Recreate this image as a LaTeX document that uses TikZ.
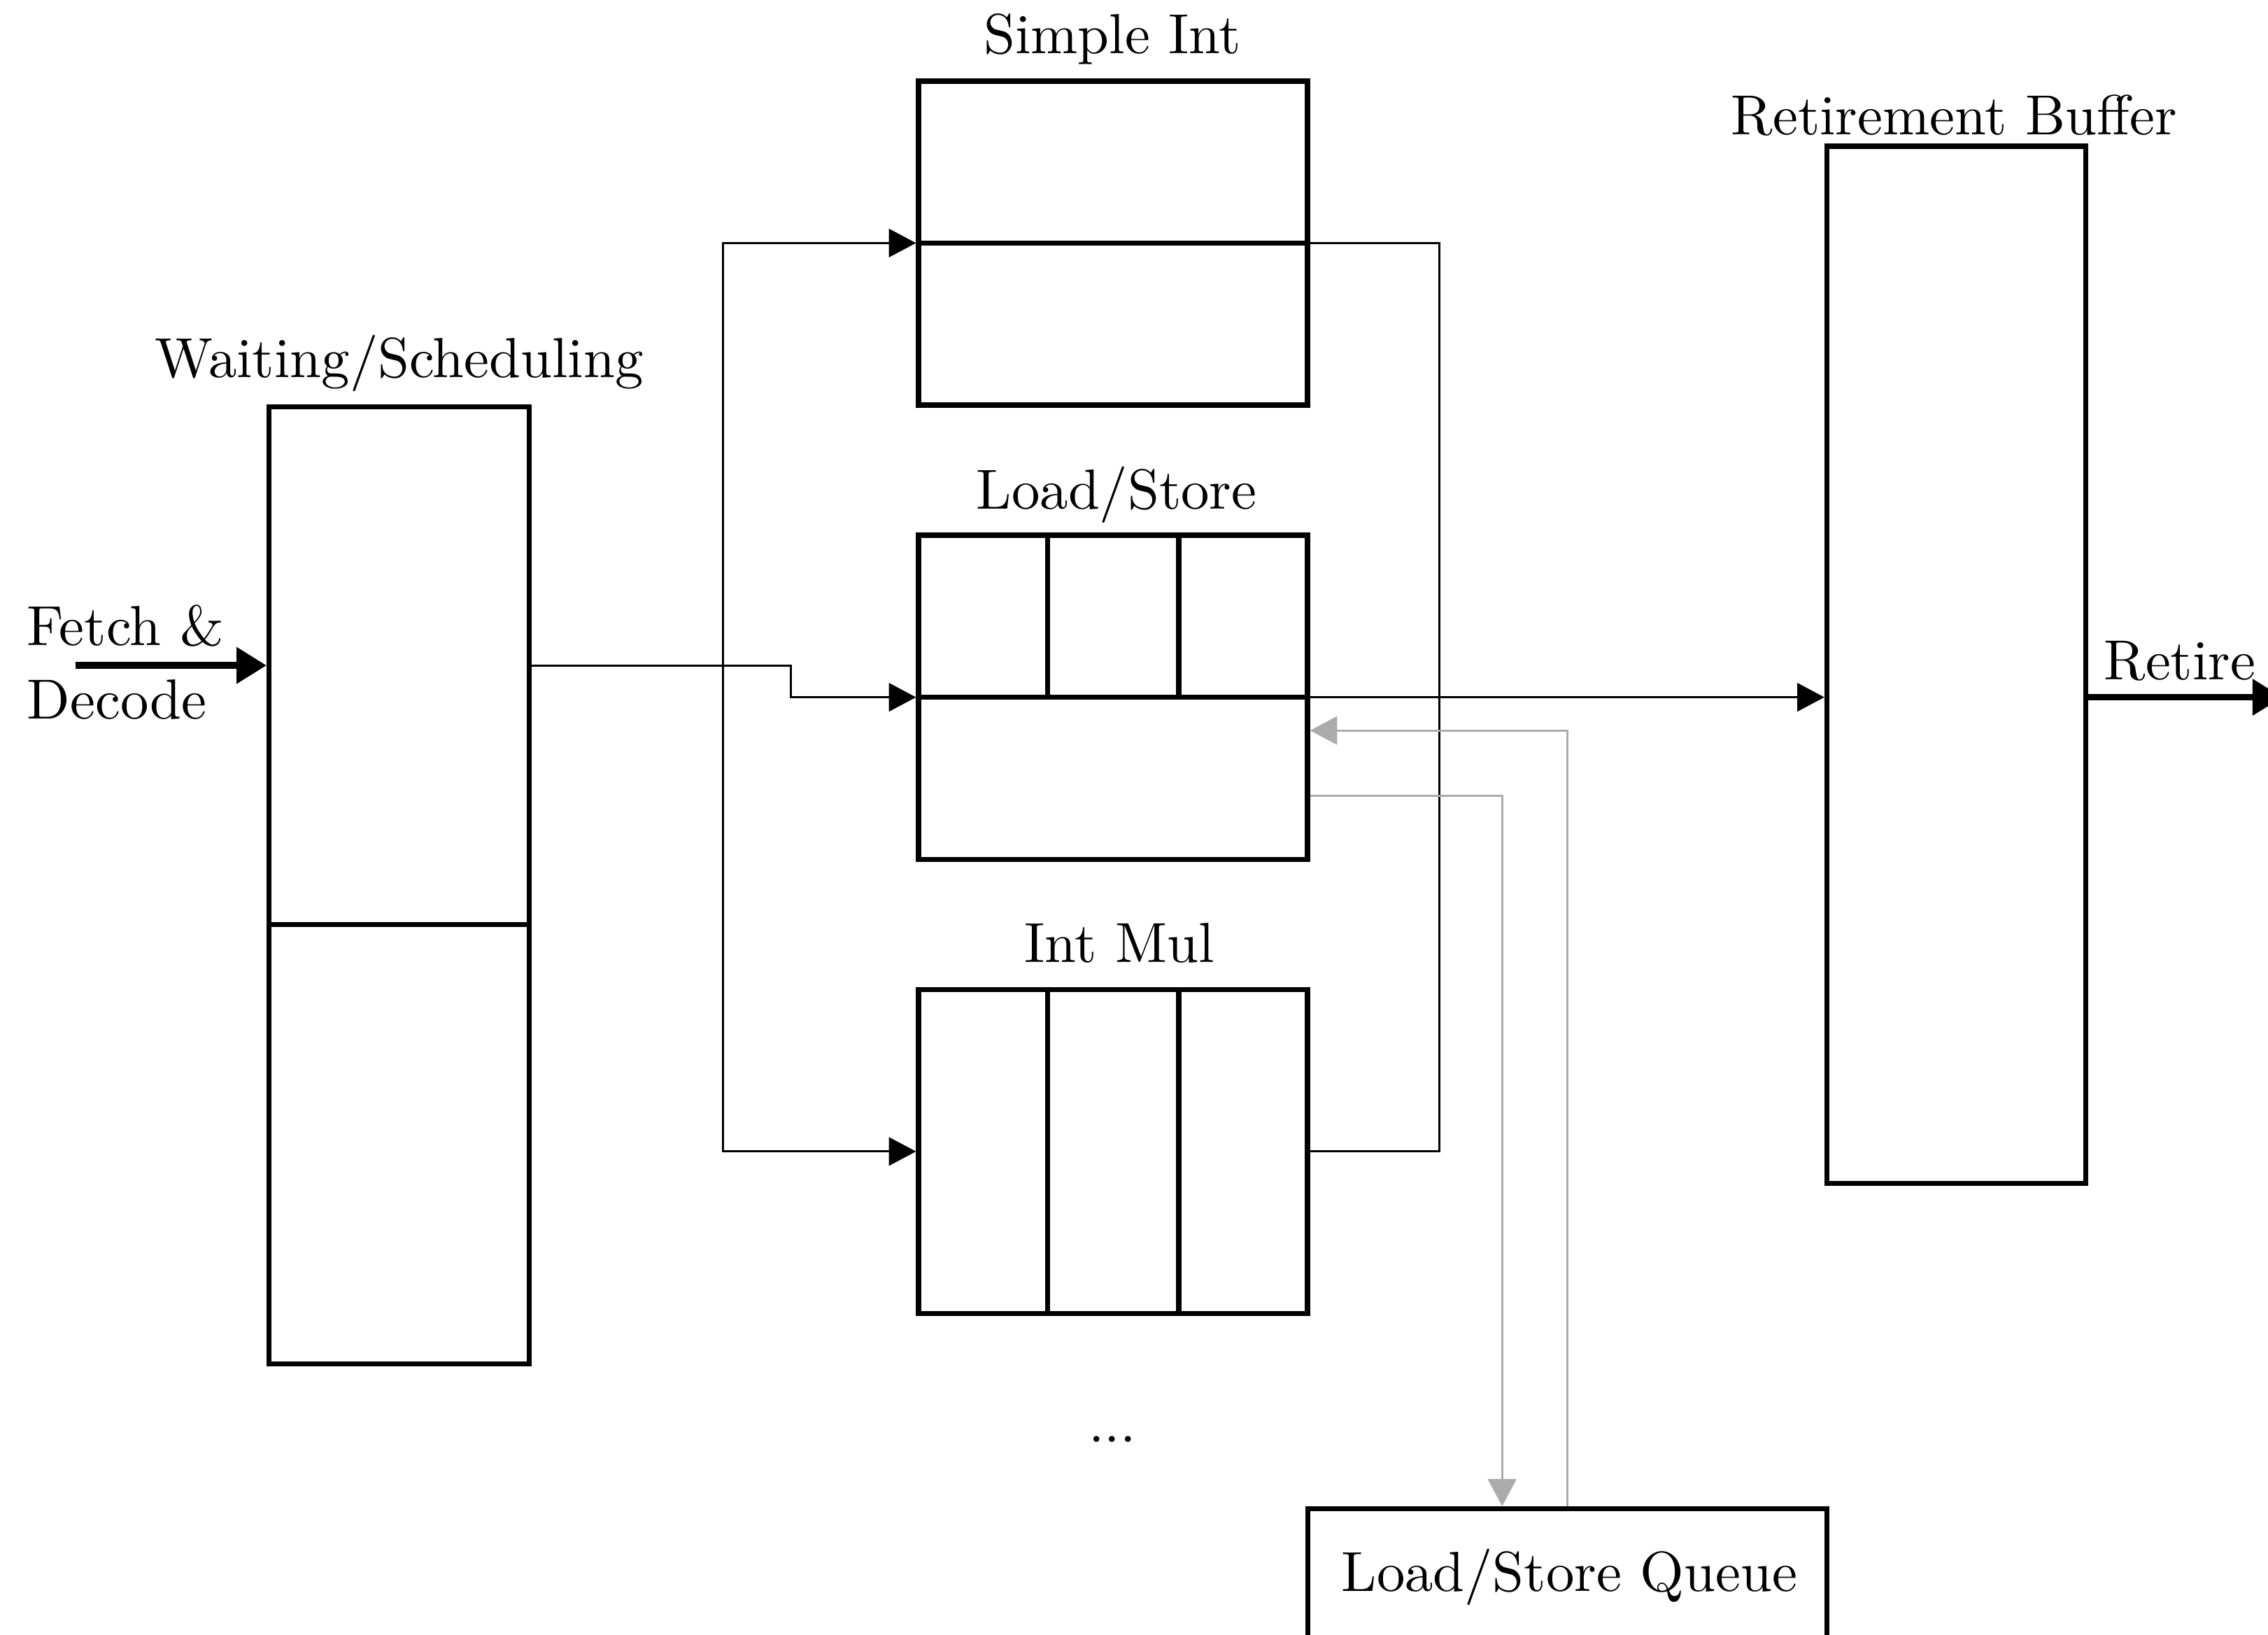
\documentclass[tikz,border=0pt]{standalone}
\usetikzlibrary{arrows.meta,calc}
\begin{document}
\begin{tikzpicture}[x=0.009cm,y=-0.009cm,
  unit/.style={draw,line width=0.9pt,inner sep=0pt,minimum width=#1},
  wire/.style={line width=0.4pt},
  tip/.style={-{Triangle[length=4.8pt,width=5pt]}},
  bitip/.style={{Triangle[length=4.8pt,width=5pt]}-{Triangle[length=4.8pt,width=5pt]}},
  greywire/.style={line width=0.4pt,draw=black!33,-{Triangle[length=4.8pt,width=5pt]}},
  bigarrow/.style={line width=1.2pt,-{Triangle[length=5.3pt,width=6.2pt]}},
  lbl/.style={anchor=base,inner sep=0pt}]
\useasboundingbox (0,0) rectangle (1568,1130);

% functional units and buffers
\node[unit=1.62cm,minimum height=5.958cm] (wt) at (276,612) {};
\node[unit=2.421cm,minimum height=2.016cm] (si) at (769.5,168) {};
\node[unit=2.421cm,minimum height=2.016cm] (ls) at (769.5,482) {};
\node[unit=2.421cm,minimum height=2.016cm] (im) at (769.5,796) {};
\node[unit=1.611cm,minimum height=6.453cm] (rb) at (1352.5,459.5) {};
\node[unit=3.231cm,minimum height=1.053cm] (lsq) at (1083.5,1101.5) {};

% internal divisions
\draw[line width=0.9pt] ($(wt.north west)!0.5408!(wt.south west)$) -- ($(wt.north east)!0.5408!(wt.south east)$);
\draw[line width=0.9pt] (si.west) -- (si.east);
\draw[line width=0.9pt] (ls.west) -- (ls.east);
\draw[line width=0.9pt] ($(ls.north west)!1/3!(ls.north east)$) -- ($(ls.west)!1/3!(ls.east)$);
\draw[line width=0.9pt] ($(ls.north west)!2/3!(ls.north east)$) -- ($(ls.west)!2/3!(ls.east)$);
\draw[line width=0.9pt] ($(im.north west)!1/3!(im.north east)$) -- ($(im.south west)!1/3!(im.south east)$);
\draw[line width=0.9pt] ($(im.north west)!2/3!(im.north east)$) -- ($(im.south west)!2/3!(im.south east)$);

% titles
\node[lbl] (tsi) at (769,37) {Simple Int};
\node[lbl] (twt) at (276,261) {Waiting/Scheduling};
\node[lbl] (tls) at (772,352) {Load/Store};
\node[lbl] (tim) at (774,665) {Int Mul};
\node[lbl] (trb) at (1351,93) {Retirement Buffer};
\node[lbl] (tlsq) at (1085,1100) {Load/Store Queue};
\node[lbl] (dots) at (769,997) {...};
\node[lbl,anchor=base west] (tfetch) at (18,446) {Fetch \&};
\node[lbl,anchor=base west] (tdecode) at (18,497) {Decode};
\node[lbl] (tret) at (1507,470) {Retire};

% connections
\coordinate (fd) at (52,460);
\coordinate (lbus) at (500,482);
\coordinate (rbus) at (995,482);
\coordinate (out) at (1578,482);

\draw[bigarrow] (fd) -- (fd -| wt.west);
\draw[wire,tip] (fd -| wt.east) -- ++(179,0) |- (ls.west);
\draw[wire,bitip] (si.west) -| (lbus) |- (im.west);
\draw[wire] (si.east) -| (rbus) |- (im.east);
\draw[wire,tip] (ls.east) -- (ls.east -| rb.west);
\draw[bigarrow] (ls.east -| rb.east) -- (out);
\draw[greywire] (lsq.north) |- ($(ls.east)+(0,23)$);
\draw[greywire] ($(ls.east)+(0,68)$) -| ($(lsq.north)+(-45,0)$);
\end{tikzpicture}
\end{document}
